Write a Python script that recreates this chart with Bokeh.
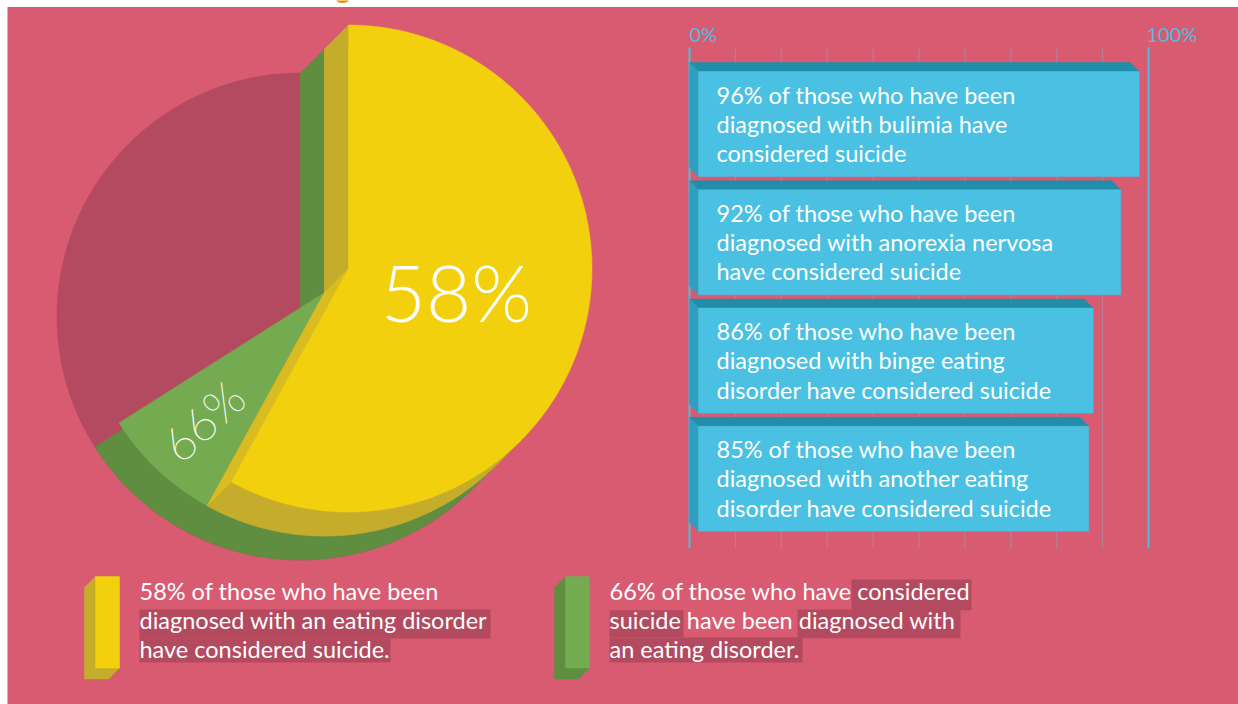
import numpy as np
from bokeh.plotting import figure
from bokeh.models import Range1d
from bokeh.core.properties import value
from bokeh.embed import file_html
from bokeh.resources import INLINE

# data
pie_labels = ["58%", "66%"]
yellow_share = 58
green_share = 66
bar_values = [96, 92, 86, 85]
bar_texts = [
    ["96% of those who have been", "diagnosed with bulimia have", "considered suicide"],
    ["92% of those who have been", "diagnosed with anorexia nervosa", "have considered suicide"],
    ["86% of those who have been", "diagnosed with binge eating", "disorder have considered suicide"],
    ["85% of those who have been", "diagnosed with another eating", "disorder have considered suicide"],
]
axis_ticks = list(range(0, 101, 10))
axis_labels = ["0%", "100%"]
legend_yellow = ["58% of those who have been", "diagnosed with an eating disorder", "have considered suicide."]
legend_green = ["66% of those who have considered", "suicide have been diagnosed with", "an eating disorder."]

# colours
BG = "#D95B71"; MAROON = "#B34A5F"
YELLOW = "#F3D00E"; YELLOW_SIDE = "#C5AD2B"; YELLOW_FACE = "#D9BB22"
GREEN = "#74AA50"; GREEN_SIDE = "#5F8E40"
BLUE = "#4AC0E3"; BLUE_TOP = "#218DA8"; BLUE_LEFT = "#2E9FBE"
GRID = "#B87C92"; AXIS = "#4FBDDD"

FONT = value("Lato")
BODY = "23.5px"

p = figure(width=1238, height=704, x_range=Range1d(0, 1238), y_range=Range1d(704, 0),
           x_axis_type=None, y_axis_type=None, toolbar_location=None, output_backend="svg",
           background_fill_color="white", border_fill_color="white", outline_line_color=None, min_border=0)
p.grid.visible = False

p.quad(left=[7], right=[1238], top=[6.5], bottom=[704], fill_color=BG, line_color=None)
p.ellipse([342], [-1], width=13, height=7, fill_color="#F08C00", line_color=None)

def poly(xs, ys, color):
    p.patch(list(xs), list(ys), fill_color=color, line_color=color, line_width=0.5)

# pie geometry
R = 243.5
YC = (348, 268)
DEPTH = 24
GC = (YC[0] - DEPTH, YC[1] + DEPTH)
MC = (GC[0] - DEPTH, GC[1] + DEPTH)

def rim(c, deg):
    t = np.radians(deg)
    return c[0] + R * np.sin(t), c[1] - R * np.cos(t)

def wedge(c, share, color):
    a = np.linspace(0, share * 3.6, 240)
    x, y = rim(c, a)
    poly([c[0], *x], [c[1], *y], color)

def swept(c, share, color):
    off = (c[0] - DEPTH, c[1] + DEPTH)
    wedge(off, share, color)
    t0 = rim(c, 0); o0 = rim(off, 0)
    poly([c[0], t0[0], o0[0], off[0]], [c[1], t0[1], o0[1], off[1]], color)
    t1 = rim(c, 135); o1 = rim(off, 135)
    poly([c[0], t1[0], o1[0], off[0]], [c[1], t1[1], o1[1], off[1]], color)

a_full = np.linspace(0, 360, 360)
xf, yf = rim(MC, a_full)
poly(xf, yf, MAROON)

swept(GC, green_share, GREEN_SIDE)
wedge(GC, green_share, GREEN)

swept(YC, yellow_share, YELLOW_SIDE)
e0 = rim(YC, yellow_share * 3.6); e1 = rim(GC, yellow_share * 3.6)
poly([YC[0], e0[0], e1[0], GC[0]], [YC[1], e0[1], e1[1], GC[1]], YELLOW_FACE)
wedge(YC, yellow_share, YELLOW)

p.text([456], [291], text=[pie_labels[0]], text_color="white", text_font=value("Lato Light"),
       text_font_size="78px", text_align="center", text_baseline="alphabetic")
p.text([202], [420], text=[pie_labels[1]], text_color="white", text_font=value("Lato Thin"),
       text_font_size="48px", text_align="center", text_baseline="middle", angle=[np.radians(43)])

# bar axis
X0 = 689; SCALE = 4.59
def vx(v):
    return X0 + SCALE * np.asarray(v, dtype=float)

for t in axis_ticks:
    end = t in (0, 100)
    p.segment(vx(t), 47, vx(t), 548, line_color=AXIS if end else GRID, line_width=2 if end else 1.2)
p.text([vx(0)], [33], text=[axis_labels[0]], text_color=AXIS, text_font=FONT, text_font_size="20px",
       text_align="left", text_baseline="alphabetic")
p.text([vx(100) - 2], [33], text=[axis_labels[1]], text_color=AXIS, text_font=FONT, text_font_size="20px",
       text_align="left", text_baseline="alphabetic")

# bars
BAR_D = 9
BAR_TOPS = [62, 180.3, 298.6, 416.7]
BAR_H = 105
LH = 29.2
for v, top, lines in zip(bar_values, BAR_TOPS, bar_texts):
    xb = float(vx(v))
    f_l, f_r = X0 + BAR_D, xb + BAR_D
    f_t, f_b = top + BAR_D, top + BAR_D + BAR_H
    poly([X0, xb, f_r, f_l], [top, top, f_t, f_t], BLUE_TOP)
    poly([X0, f_l, f_l, X0], [top, f_t, f_b, f_b - BAR_D], BLUE_LEFT)
    poly([f_l, f_r, f_r, f_l], [f_t, f_t, f_b, f_b], BLUE)
    for i, s in enumerate(lines):
        p.text([716], [top + 32 + i * LH], text=[s], text_color="white", text_font=FONT,
               text_font_size=BODY, text_align="left", text_baseline="alphabetic")

# legend swatches
def swatch(x, front, side):
    w = 24; h = 91.5; d = 11; t = 576
    poly([x, x - d, x - d, x - d + w, x + w, x], [t, t + d, t + h + d, t + h + d, t + h, t + h], side)
    poly([x, x + w, x + w, x], [t, t, t + h, t + h], front)

swatch(95, YELLOW, YELLOW_SIDE)
swatch(565, GREEN, GREEN_SIDE)

# text highlights
hl_left = [139, 139, 851, 609, 797, 609]
hl_right = [490, 390, 971, 683, 960, 802]
hl_top = [609, 638, 579, 609.7, 609, 637]
hl_bottom = [638, 662, 609.7, 636.7, 637.7, 662]
p.quad(left=hl_left, right=hl_right, top=hl_top, bottom=hl_bottom, fill_color=MAROON, line_color=None)

for x, lines in ((139, legend_yellow), (609, legend_green)):
    for i, s in enumerate(lines):
        p.text([x], [590 + i * LH], text=[s], text_color="white", text_font=FONT, text_font_size=BODY,
               text_align="left", text_baseline="alphabetic")

open("out.html", "w").write(file_html(p, INLINE))
